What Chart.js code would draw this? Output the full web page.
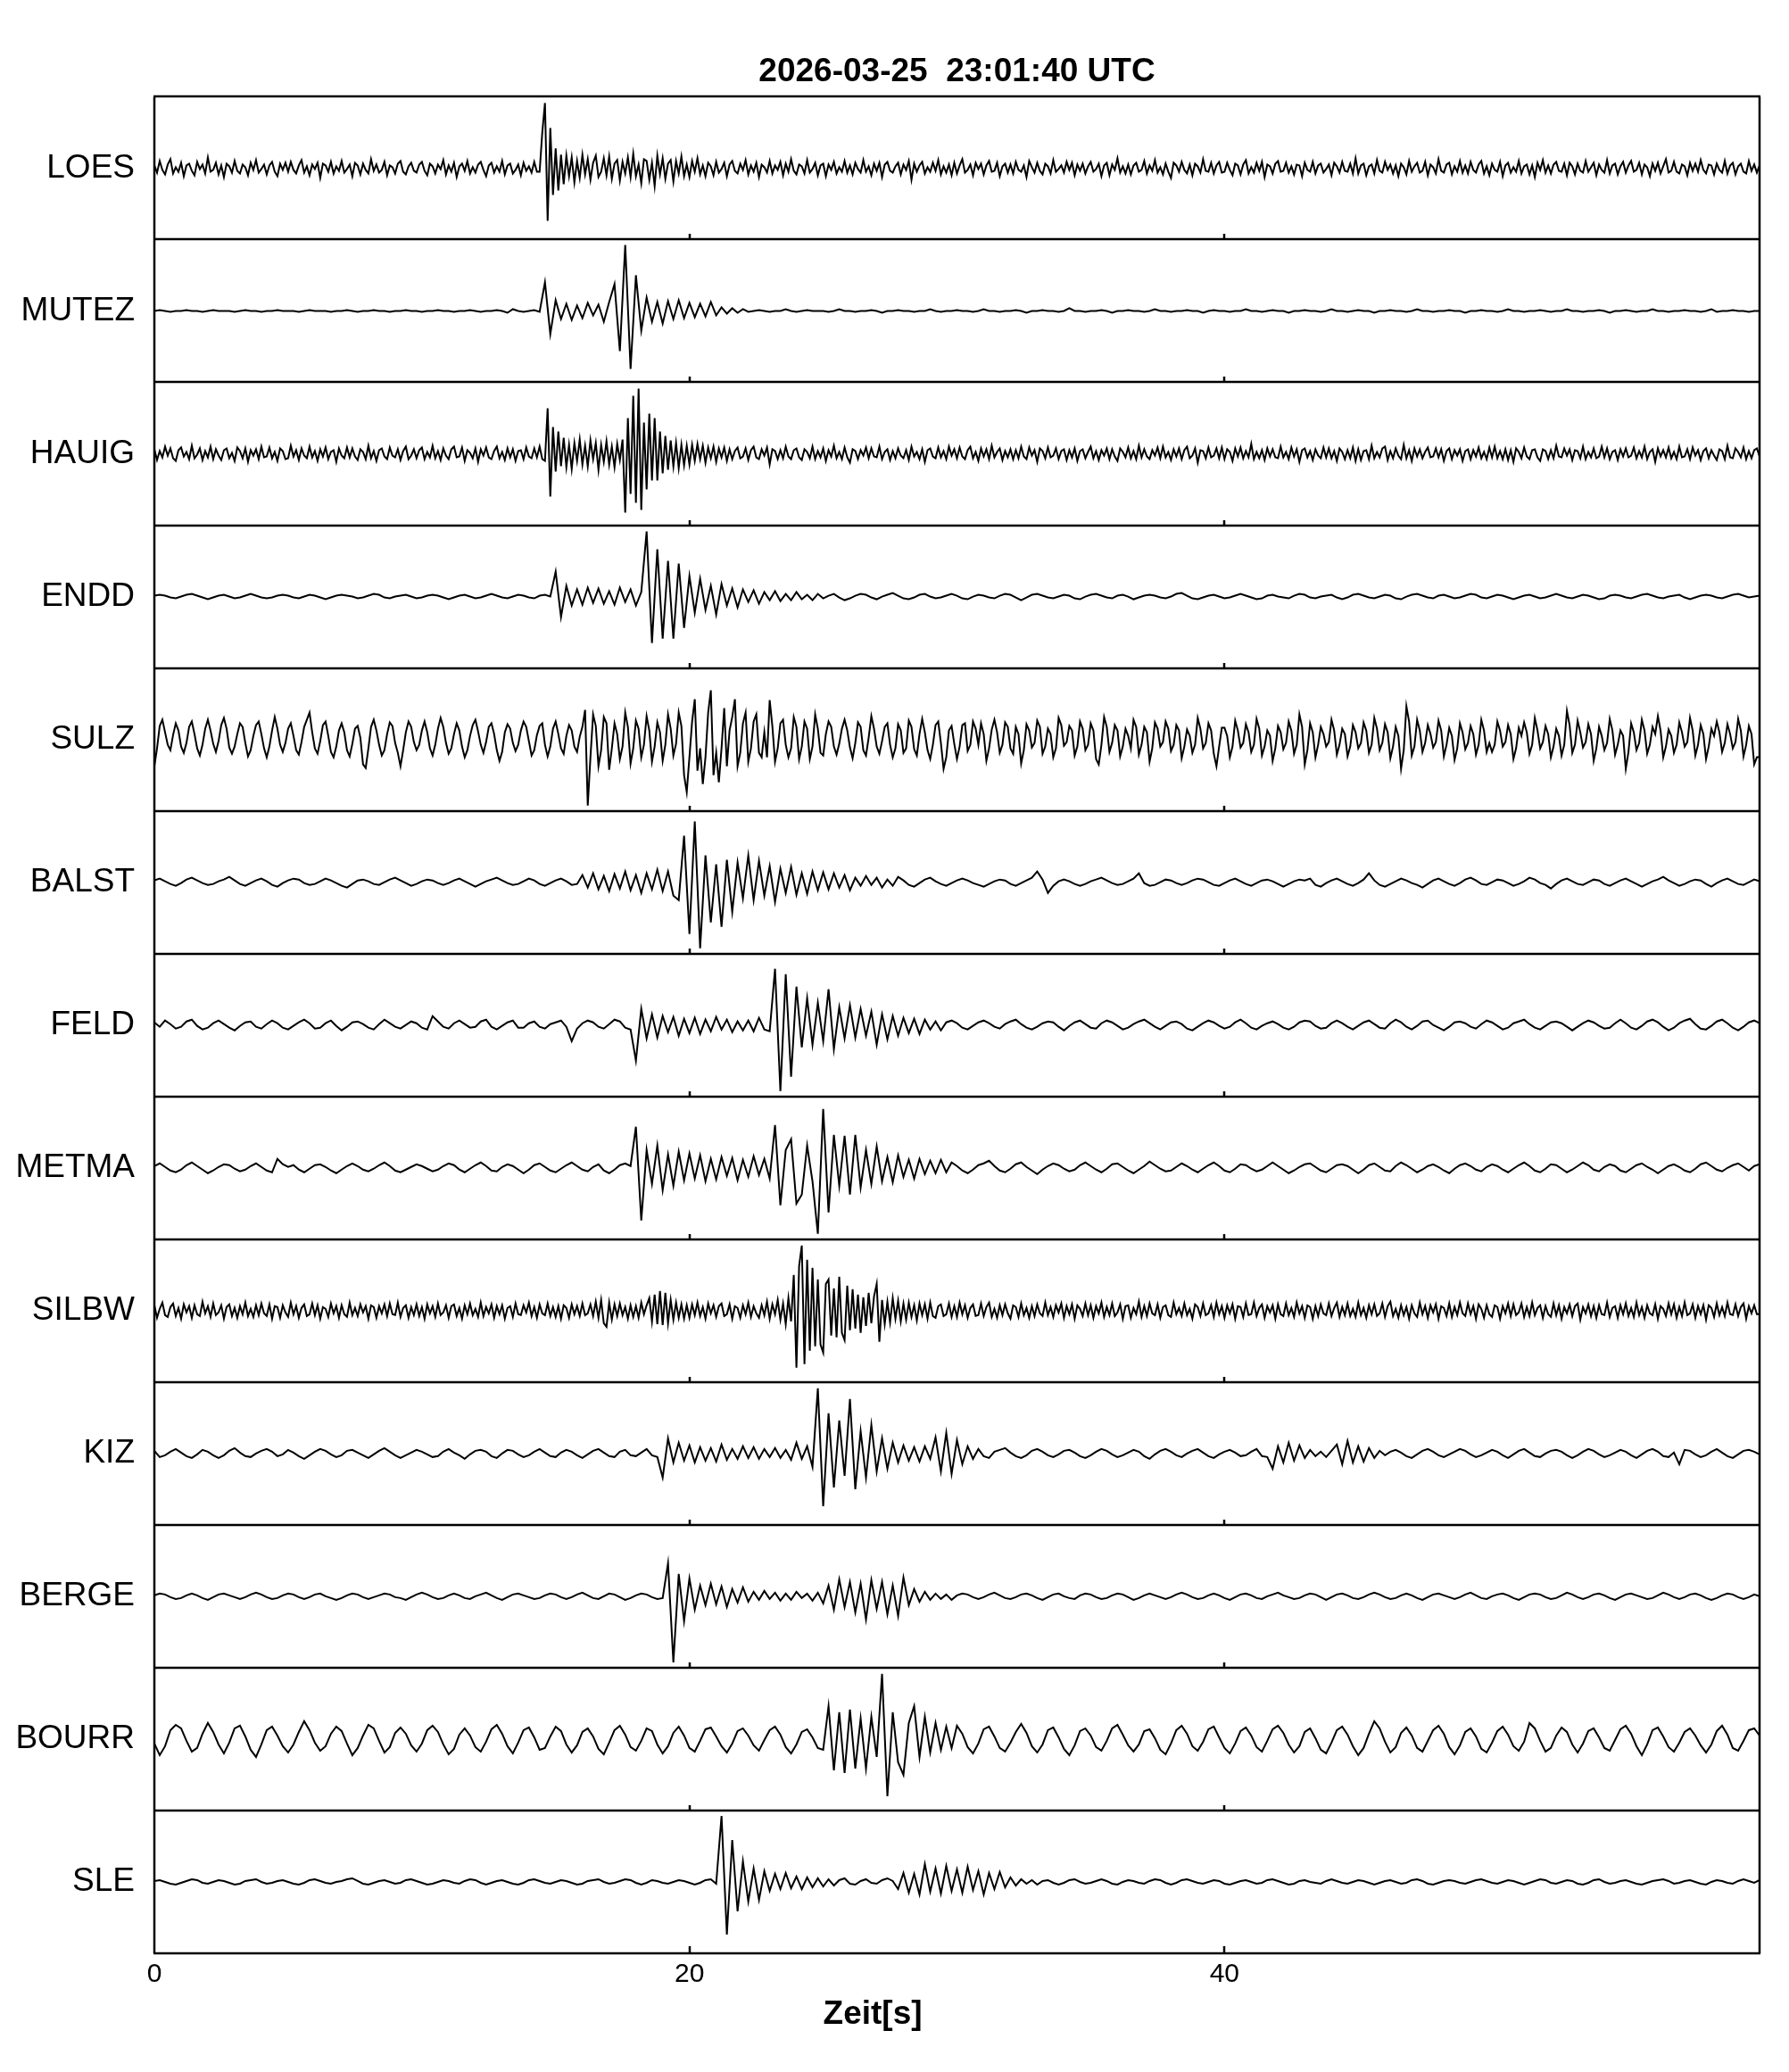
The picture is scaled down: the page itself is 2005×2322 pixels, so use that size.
<!DOCTYPE html>
<html>
<head>
<meta charset="utf-8">
<title>Seismogramme</title>
<script src="https://cdn.jsdelivr.net/npm/chart.js@4.4.1/dist/chart.umd.min.js"></script>
<style>
  html, body { margin: 0; padding: 0; background: #fff; }
  canvas { display: block; }
</style>
</head>
<body>
<canvas id="seisChart" width="2005" height="2322"></canvas>
<script>
const ctx = document.getElementById("seisChart").getContext("2d")

const chartTitle = "2026-03-25  23:01:40 UTC"
const xLabel = "Zeit[s]"
const stations = ["LOES", "MUTEZ", "HAUIG", "ENDD", "SULZ", "BALST", "FELD", "METMA", "SILBW", "KIZ", "BERGE", "BOURR", "SLE"]
const timeTicks = [0, 20, 40]
const timeSpan = 60
// seconds between samples of each trace (0.1 s: 50 values per row, 0.2 s: 25 per row, one row = 5 s)
const sampleSteps = [0.1, 0.2, 0.1, 0.2, 0.1, 0.2, 0.2, 0.2, 0.1, 0.2, 0.2, 0.2, 0.2]

// amplitudes, in px (panel half height = 80)
const loes = [
  3,-5,8,-2,-7,4,10,-6,1,-4,6,-9,3,5,-3,-8,7,-1,4,-6,12,-4,-2,6,-7,3,-10,5,2,-5,8,-3,-6,4,1,-8,6,-2,9,-5,-1,4,-7,3,7,-4,-9,5,-2,6,
  -4,7,-2,-6,3,9,-5,2,-8,4,-1,6,-11,5,3,-4,7,-6,2,-3,8,-5,-1,4,-9,6,3,-7,5,-2,-6,10,-3,4,-5,-2,7,-8,3,1,-6,5,8,-4,-7,2,6,-3,-5,4,
  7,-3,-8,5,2,-6,4,-1,9,-7,3,-4,6,-10,2,5,-3,8,-6,1,-5,4,7,-2,-9,3,6,-5,2,-4,8,-7,3,5,-6,-2,4,-8,6,-3,2,-5,7,-4,-4,40,73,-59,45,-30,
  22,-25,15,-18,14,-9,12,-16,8,-11,15,-7,10,-13,6,14,-10,-4,11,-8,13,-12,5,9,-14,7,-6,12,-10,16,-9,4,-17,10,8,-13,6,-20,14,-7,11,-12,5,9,-15,8,-6,13,-9,4,
  -10,8,-4,11,-7,3,-9,6,2,-8,7,-5,-1,6,-9,4,8,-3,-6,5,-2,9,-7,3,-4,6,-10,4,1,-5,8,-6,3,-2,7,-8,5,-4,10,-3,-7,4,2,-6,9,-5,-1,6,-8,3,
  5,-9,4,-2,7,-6,1,-4,8,-5,3,-7,6,-1,-5,9,-4,2,-8,5,-3,6,-10,4,7,-3,-5,2,6,-7,4,-2,8,-13,5,-4,3,7,-6,1,-4,6,-3,9,-7,2,-5,4,-8,6,
  -6,3,10,-5,-2,4,-8,6,-1,5,-7,3,8,-4,-3,6,-9,2,5,-5,4,-6,7,-2,-4,3,-10,8,1,-5,6,-3,-7,5,2,-6,9,-4,-1,3,-5,7,-2,6,-8,4,-3,5,-6,2,
  7,-4,-1,5,-9,3,6,-8,4,-2,11,-5,2,-6,4,-7,3,6,-4,-2,8,-6,3,-3,9,-5,1,-7,5,-4,-11,6,3,-4,7,-2,-6,4,-8,5,2,-5,10,-3,-4,6,-6,3,7,-5,
  -4,6,-2,-8,5,3,-7,4,9,-6,1,-5,6,-3,7,-10,4,2,-6,5,8,-4,-3,6,-5,2,-7,4,3,-9,6,-2,-4,7,-6,3,5,-5,-1,4,-8,6,2,-5,7,-3,-4,5,-6,11,
  -6,3,5,-8,2,4,-6,9,-3,-5,7,-2,4,-6,3,-9,5,1,-7,8,-4,2,6,-5,-3,7,-8,4,1,-6,10,-3,-5,4,6,-7,2,-4,8,-5,3,-6,7,-2,-5,4,8,-6,2,-8,
  5,-2,-4,7,-9,3,6,-5,1,-4,8,-6,2,4,-7,3,-10,6,-2,9,-5,3,-6,4,7,-3,-4,5,-8,6,2,-7,5,-3,-5,8,-4,1,6,-8,4,-2,-5,9,-6,3,5,-7,2,7,
  -5,3,8,-4,-2,6,-7,4,1,-9,5,-3,6,-6,2,10,-5,-3,7,-4,-6,4,2,-8,6,-3,5,-4,9,-2,-6,4,3,-7,5,-2,-5,8,-6,3,6,-7,2,5,-4,-6,8,-3,4,-5,
  3,
]
const mutez = [
  0,1,0,-1,0,0,1,0,0,-1,0,1,0,0,0,-1,0,1,0,0,-1,0,0,1,0,
  0,0,-1,0,1,0,0,0,-1,0,0,1,0,-1,0,0,1,0,0,-1,0,0,1,0,0,
  -1,0,0,1,0,0,-1,0,0,1,0,-1,0,0,1,0,-2,2,0,-1,0,1,-1,32,-26,
  12,-9,8,-10,6,-8,9,-5,7,-12,10,30,-45,74,-65,40,-22,15,-12,10,-14,11,-9,12,-8,
  9,-7,8,-6,10,-5,4,-3,3,-2,2,-1,0,1,0,-1,0,0,2,0,-1,0,1,0,0,
  0,-1,0,2,0,0,-1,0,0,1,0,-2,0,0,1,0,0,-1,0,0,2,0,-1,0,0,
  1,0,0,-1,0,2,0,0,-1,0,0,1,0,-2,0,0,1,0,0,-1,0,3,0,0,-1,
  0,0,1,0,-2,0,0,1,0,0,-1,0,2,0,0,-1,0,0,1,0,0,-2,0,1,0,
  0,-1,0,0,2,0,0,-1,0,1,0,0,-2,0,0,1,0,0,-1,0,2,0,0,-1,0,
  1,0,0,-2,0,0,1,0,0,-1,0,2,0,0,-1,0,0,1,0,0,-2,0,0,1,0,
  0,-1,0,2,0,0,-1,0,0,1,0,-1,0,0,2,0,0,-1,0,0,1,0,-2,0,0,
  1,0,-1,0,0,2,0,0,-1,0,0,1,0,0,-1,0,2,-1,0,0,1,0,0,-1,0,
  0,
]
const hauig = [
  5,-7,3,-4,8,-2,6,-5,-8,4,7,-3,2,-6,9,-5,-1,6,-7,3,-4,8,-6,5,-2,-7,4,6,-5,1,-8,7,3,-5,6,-9,4,-2,5,-6,8,-4,-3,7,-5,2,-8,6,3,-6,
  -5,9,-3,4,-7,6,-2,-5,8,-4,3,-8,5,-3,7,-6,2,4,-9,6,-2,-5,7,-4,6,-3,-7,5,2,-6,9,-5,3,-8,4,6,-3,-6,7,-2,-4,5,-7,3,8,-6,-2,5,-5,4,
  7,-6,2,-4,9,-5,3,-7,6,-2,-6,5,8,-4,-3,7,-8,4,1,-5,6,-9,5,-2,7,-4,-6,3,8,-5,2,-7,6,-4,5,-8,3,4,-6,7,-3,-5,6,-4,8,-6,-8,51,-48,30,
  -20,25,-14,18,-15,10,-17,12,-8,16,-12,9,-14,15,-6,12,-18,10,-9,14,-12,8,-15,11,-7,16,-66,40,-45,65,-55,73,-63,35,-40,45,-30,40,-30,25,-22,20,-18,15,-14,12,-16,10,-13,9,
  -12,10,-8,11,-6,9,-10,7,-5,8,-9,6,-4,7,-8,5,-6,3,7,-5,-3,6,-7,4,8,-4,-6,5,-2,7,-12,5,3,-6,4,-5,8,-3,-6,4,6,-4,-7,5,2,-5,8,-6,3,-4,
  6,-8,4,-3,9,-5,2,-6,7,-4,-10,5,3,-6,4,-2,7,-5,6,-3,-4,8,-6,2,5,-7,3,-5,6,-2,-5,4,-7,8,-3,2,-6,5,-9,4,6,-3,-5,7,-4,3,-6,8,-2,5,
  -5,7,-3,-6,4,8,-5,2,-8,6,-3,5,-6,9,-4,2,6,-7,3,-4,5,-6,4,-5,8,-3,-6,7,-2,4,-9,6,3,-5,7,-4,-2,6,-6,3,5,-7,4,-4,6,-8,3,5,-5,2,
  8,-5,3,-7,4,-2,6,-6,5,-3,-8,6,2,-4,7,-5,3,-6,9,-4,5,-3,-6,4,-2,7,-5,8,-4,2,-7,5,-3,6,-6,4,8,-5,-2,6,-10,4,3,-5,7,-4,-2,6,-5,7,
  -6,5,2,-8,6,-3,7,-5,3,-4,11,-6,2,-5,4,-7,6,-3,5,-4,-5,8,-4,2,-6,7,-3,5,-9,4,6,-4,3,-7,5,-2,-5,7,-4,6,-5,3,-8,6,2,-6,4,-5,7,-8,
  5,-7,3,4,-6,9,-5,2,-4,6,8,-7,3,-5,6,-2,-6,10,-5,4,-8,6,-3,5,-5,2,7,-4,-3,6,-4,5,-8,3,6,-6,4,-2,5,-8,3,5,-6,4,-3,7,-5,2,-6,7,
  -4,8,-5,3,-6,5,-7,4,-9,6,2,-5,7,-3,-6,4,5,-4,-8,5,3,-6,4,-5,9,-3,-4,6,-2,5,-7,4,3,-5,8,-6,2,-4,6,-5,-3,8,-4,6,-6,2,4,-7,5,-3,
  6,-4,-2,7,-5,3,-4,8,-6,2,5,-9,6,-3,4,-4,7,-5,2,-6,8,-4,-3,5,-6,7,-2,4,-7,3,6,-5,4,-2,-7,5,3,-6,9,-4,-5,6,2,-4,7,-6,3,-5,4,6,
  -3,
]
const endd = [
  1,2,1,-1,-2,0,2,3,1,-1,-3,-1,1,2,0,-2,-1,1,3,1,-1,-2,-1,1,2,
  1,-1,-2,0,2,1,-1,-3,-1,1,2,1,0,-2,-1,1,3,2,-1,-2,0,1,2,0,-2,
  -1,1,2,1,-1,-3,-1,1,2,0,-2,-1,1,3,1,-1,-2,0,2,1,-1,-2,1,2,0,
  28,-23,12,-10,8,-9,10,-7,9,-8,6,-9,10,-6,8,-10,5,73,-52,53,-47,40,-47,37,-35,
  23,-18,20,-15,12,-20,14,-10,9,-12,8,-6,7,-8,5,-4,6,-5,3,-4,5,-3,2,-4,3,
  -2,1,3,-1,-4,-2,1,3,2,-1,-3,0,2,4,1,-2,-3,-1,2,3,0,-2,-1,1,3,
  1,-2,-3,0,2,1,-1,-2,1,3,2,-1,-4,-1,2,3,1,-1,-2,0,2,1,-2,-3,0,
  2,3,1,-1,-2,1,2,0,-3,-1,1,2,1,-1,-2,0,3,4,1,-2,-3,-1,1,2,0,
  -2,-1,1,3,1,-1,-3,-2,1,2,0,-1,-2,1,3,2,-1,-2,0,1,2,-1,-3,-1,2,
  3,1,-1,-2,0,2,1,-2,-3,0,2,3,1,-1,-2,1,2,0,-2,-1,1,3,2,-1,-2,
  0,2,1,-1,-3,-1,1,2,0,-2,-1,1,3,1,-1,-2,0,2,1,-1,-3,-2,1,2,1,
  -1,-2,0,2,3,1,-1,-2,0,1,2,-1,-3,-1,1,2,1,-1,-2,0,2,3,1,-1,0,
  1,
]
const sulz = [
  -30,-10,15,22,8,-6,-12,5,18,10,-8,-15,-4,14,20,6,-10,-18,-6,12,22,10,-5,-14,-2,16,24,12,-9,-16,-8,6,18,14,-4,-19,-12,4,16,20,6,-10,-20,-8,10,25,12,-6,-14,-4,
  12,18,4,-12,-17,-3,14,22,30,8,-10,-16,-2,16,20,4,-14,-20,-8,10,18,8,-12,-19,-5,12,15,2,-28,-32,-10,14,22,10,-6,-18,-12,6,19,15,-4,-15,-30,-12,8,20,14,-3,-12,-6,
  10,20,8,-10,-18,-6,12,24,14,-4,-16,-10,6,18,10,-8,-20,-12,4,16,22,9,-6,-15,-3,14,18,6,-12,-24,-14,8,17,12,-4,-13,-6,10,20,14,-2,-18,-12,5,15,18,-6,-19,-8,12,
  20,6,-10,-16,4,16,10,-8,-14,3,14,33,-74,-20,28,15,-30,-12,25,18,-34,-10,18,6,-22,-8,30,14,-27,-10,21,12,-20,-6,26,10,-25,-8,19,8,-24,-6,28,12,-18,-5,30,15,-40,-59,
  -20,20,45,-35,-10,-50,-20,30,55,-40,-15,-48,-10,35,-30,10,25,45,-30,-15,18,30,-25,-10,20,28,-15,-20,8,-20,44,15,-25,-10,18,22,-6,-20,-10,25,14,-22,-8,20,12,-22,-8,28,12,-15,
  -18,6,20,14,-8,-17,-5,12,22,10,-9,-21,-4,19,14,-12,-18,2,26,12,-8,-16,-2,14,18,-6,-20,-10,17,10,-15,-10,21,14,-11,-18,6,23,8,-12,-22,-6,16,20,-4,-33,-20,10,15,-5,
  -22,-8,16,18,-13,-6,20,12,-6,18,6,-24,-10,11,22,8,-15,-6,19,14,-10,-16,14,6,-27,-12,17,10,-9,-4,21,14,-16,-8,12,6,-20,-10,24,16,-7,-3,15,10,-18,-8,20,12,-12,-6,
  18,10,-22,-28,-6,25,14,-14,-4,16,10,-19,-8,12,4,-10,22,14,-17,-6,14,8,-25,-10,19,12,-8,-3,20,12,-13,-6,16,10,-21,-8,11,4,-15,-6,24,12,-10,-4,18,10,-16,-30,-8,13,
  13,4,-20,-8,21,10,-9,-4,17,8,-14,-6,23,12,-18,-8,10,4,-24,-10,15,8,-11,-4,20,10,-16,-6,28,14,-28,-12,18,8,-20,-6,14,6,-8,-3,22,10,-17,-6,12,6,-19,-8,16,8,
  -10,-4,19,10,-15,-6,24,12,-12,-4,17,8,-21,-8,14,4,-33,-12,37,20,-18,-8,22,10,-14,-4,16,6,-9,-3,21,10,-19,-6,13,4,-23,-10,18,8,-11,-4,15,6,-17,-6,22,10,-14,-4,
  -14,-6,20,10,-8,-3,16,6,-22,-10,13,4,19,8,-16,-6,24,10,-10,-3,15,6,-20,-8,12,4,-18,-6,32,16,-15,-6,21,8,-9,-3,17,6,-24,-10,14,4,-12,-4,23,10,-17,-6,10,4,
  -33,-14,18,8,-12,-4,22,10,-16,-6,14,6,26,10,-20,-8,11,4,-15,-6,19,8,-8,-3,24,10,-18,-6,16,6,-22,-8,12,4,20,8,-14,-4,17,6,-10,-3,23,10,-19,-6,15,6,-28,-20,
  -20,
]
const balst = [
  2,4,1,-2,-4,-1,3,5,2,-1,-3,-2,1,3,6,2,-2,-4,-1,2,4,1,-3,-5,-1,
  2,4,3,-1,-3,-2,1,4,2,-1,-4,-6,-2,2,3,1,-2,-3,0,3,5,2,-1,-4,-2,
  1,3,2,-1,-3,-1,2,4,1,-2,-5,-2,1,3,5,2,-1,-3,-2,1,4,2,-2,-4,-1,
  2,4,1,-3,-2,8,-6,10,-8,7,-10,9,-7,12,-9,8,-12,10,-8,14,-10,12,-15,-20,52,
  -58,68,-74,30,-45,20,-50,25,-33,22,-18,30,-20,24,-15,18,-22,15,-12,17,-14,10,-13,12,-9,
  11,-8,10,-6,8,-9,5,-4,7,-3,5,-6,3,-4,6,2,-3,-5,-1,3,5,1,-2,-4,-1,
  2,4,2,-1,-3,-5,-2,1,3,2,-2,-4,-1,2,5,12,3,-12,-4,1,3,1,-2,-4,-2,
  1,3,5,2,-1,-3,-2,1,4,10,-1,-4,-3,0,3,2,-1,-3,-1,2,4,3,0,-3,-4,
  -1,2,4,1,-2,-4,-1,2,3,1,-2,-5,-2,1,3,2,4,-3,-5,-1,2,4,1,-2,-4,
  -1,3,10,2,-3,-5,-2,1,4,2,-1,-3,-6,-2,2,4,1,-2,-4,-1,3,5,2,-2,-3,
  0,3,2,-1,-4,-2,1,5,3,-1,-3,-7,-2,2,4,1,-2,-3,0,3,2,-2,-4,-1,2,
  4,1,-2,-5,-2,1,3,6,2,-1,-4,-2,1,3,2,-2,-5,-1,2,4,1,-2,-3,0,3,
  1,
]
const feld = [
  3,-2,5,1,-4,-2,4,6,-1,-5,-3,2,5,1,-3,-6,-1,3,4,-2,-4,1,5,2,-3,
  -5,-1,3,6,2,-4,-3,2,5,-1,-6,-2,3,4,1,-3,-5,1,6,2,-2,-4,0,4,2,
  -3,-5,10,4,-2,-4,2,5,1,-3,-2,4,6,-2,-5,-1,3,5,-3,-3,2,4,-2,-4,1,
  3,5,-2,-18,-4,2,5,3,-2,-4,1,6,4,-3,-5,-40,18,-15,12,-14,10,-8,9,-12,7,
  -9,8,-10,6,-7,9,-5,6,-8,4,-6,5,-7,8,-5,-7,63,-74,57,-58,43,-25,30,-22,25,
  -18,40,-27,20,-15,22,-14,18,-12,15,-22,12,-16,10,-12,8,-9,7,-10,6,-5,4,-6,3,5,
  2,-3,-5,-1,3,5,2,-2,-4,1,4,6,1,-3,-5,-2,2,4,3,-2,-6,-1,3,5,1,
  -3,-4,2,5,3,-1,-5,-3,1,4,6,2,-2,-5,-1,3,4,1,-4,-6,-2,2,5,3,-1,
  -4,-2,3,6,2,-3,-5,-1,2,4,1,-3,-5,-2,3,5,4,-1,-4,-3,2,5,2,-2,-5,
  -1,3,5,1,-3,-4,2,6,3,-2,-5,-1,4,5,0,-3,-6,-2,3,4,2,-2,-4,1,5,
  3,-1,-5,-3,2,4,6,1,-3,-5,-1,3,4,2,-2,-6,-2,2,5,3,-1,-4,-3,2,6,
  2,-3,-5,-1,4,6,3,-2,-6,-3,2,5,7,1,-4,-5,-1,4,6,2,-3,-6,-2,3,5,
  2,
]
const metma = [
  2,5,1,-3,-5,-2,3,6,2,-2,-6,-3,1,4,3,-1,-4,-2,2,5,1,-3,-5,10,4,
  1,3,-2,-5,-1,3,4,1,-3,-6,-2,2,5,2,-2,-4,-1,3,6,2,-3,-5,-2,1,4,
  2,-1,-4,-2,2,5,3,-2,-5,-1,3,6,2,-3,-4,1,4,2,-2,-6,-2,3,5,1,-3,
  -5,-1,3,6,2,-2,-4,1,4,-3,-6,-2,3,5,2,46,-59,20,-18,25,-25,15,-20,18,-14,
  16,-12,14,-15,10,-13,12,-9,11,-14,9,-10,13,-8,10,-12,48,-42,20,32,-40,-30,25,-15,-74,
  66,-50,37,-20,36,-30,37,-22,20,-18,24,-15,12,-16,14,-10,9,-12,10,-7,8,-6,9,-5,6,
  2,-3,-6,-2,3,5,8,2,-3,-5,-1,4,6,1,-3,-7,-2,2,5,3,-1,-4,-2,3,6,
  2,-2,-5,-1,4,5,1,-3,-6,-2,2,7,3,-1,-4,-3,1,5,2,-2,-5,-1,3,6,2,
  -3,-5,-1,4,3,-1,-4,-2,2,6,2,-2,-6,-3,1,4,5,1,-3,-5,-1,3,4,2,-2,
  -6,-2,3,5,1,-3,-4,2,6,3,-1,-5,-2,2,4,1,-3,-6,-1,3,5,2,-2,-4,1,
  4,2,-2,-5,-1,3,6,2,-3,-5,-1,4,3,-1,-5,-2,2,6,3,-2,-4,1,4,2,-3,
  -5,-1,3,5,1,-2,-6,-2,2,4,1,-3,-5,-1,4,6,2,-2,-4,0,3,5,1,-3,2,
  4,
]
const silbw = [
  6,-8,2,9,-5,-7,4,8,-6,3,-9,7,-2,5,-8,6,-4,-6,10,-3,5,-7,8,-5,-2,6,-9,4,7,-6,3,-8,5,-4,9,-6,2,-7,6,-5,8,-3,-6,7,-9,5,4,-8,6,-2,
  -7,9,-4,5,-8,3,7,-6,-4,8,-5,6,-9,4,2,-7,8,-3,5,-8,6,-4,-7,9,-5,3,-6,7,-2,5,-9,6,4,-8,5,-3,7,-6,8,-4,-5,9,-7,3,6,-8,4,-5,7,-6,
  4,-9,7,-3,5,-7,8,-5,-2,6,-8,5,7,-6,3,-9,6,-4,8,-5,2,-7,9,-6,4,-3,7,-8,5,-4,6,-9,3,5,-7,8,-4,-5,6,-2,9,-6,4,-8,7,-3,-5,8,-6,4,
  -7,5,-9,6,3,-8,7,-4,5,-6,8,-5,-3,7,-6,10,-8,12,-14,-18,9,-10,7,-6,8,-5,4,-9,6,-7,5,-8,9,-4,6,14,-12,18,-15,22,-16,20,-14,12,-10,9,-8,7,-9,6,
  -8,7,-5,9,-6,4,-9,8,-3,6,-7,5,8,-6,-4,7,-9,5,3,-8,6,-4,9,-7,5,-3,-8,6,-5,10,-9,7,-4,12,-10,8,-15,14,-12,40,-64,50,73,-60,57,-45,48,-40,35,-38,
  -47,30,35,-28,25,-30,38,-25,-33,28,-22,24,-20,18,-25,15,-17,20,-14,16,30,-35,12,-15,10,-13,14,-9,11,-12,8,-10,9,-7,6,-11,8,-5,7,-9,9,-6,-8,5,7,-6,-4,8,-7,5,
  -7,9,-4,6,-8,3,7,-6,-5,8,-6,4,9,-7,2,-8,6,-5,7,-3,-9,6,4,-7,8,-5,3,-8,5,-6,7,-3,-6,9,-5,4,-7,6,-2,8,-8,5,-4,7,-9,6,2,-6,8,-5,
  6,-8,5,-3,9,-7,4,-5,8,-6,-2,7,-9,5,6,-8,3,-4,10,-7,5,-6,8,-3,-5,7,-8,4,6,-5,-7,9,-4,3,-6,8,-5,2,-9,7,4,-6,8,-5,-3,6,-7,9,-4,5,
  -8,6,-3,7,-9,5,4,-7,8,-5,-4,9,-6,3,7,-8,5,-2,6,-9,7,-4,-6,8,-5,3,-7,9,-3,5,-8,6,4,-9,5,-6,7,-3,-5,8,-6,3,9,-7,4,-5,8,-6,2,-7,
  9,-5,3,-8,6,-4,7,-6,-3,8,-7,5,10,-6,2,-8,6,-5,4,-9,6,-3,-7,9,-4,5,-8,6,-2,7,-9,5,3,-6,8,-7,4,-5,9,-3,-6,8,-4,5,-9,7,2,-8,6,-4,
  -7,6,4,-9,5,-3,8,-6,7,-5,-2,8,-7,4,-6,9,-5,3,6,-8,5,-4,-7,8,-5,6,-9,4,-3,7,-6,5,8,-10,4,-3,7,-6,5,-8,6,-4,-5,9,-7,3,5,-8,6,-4,
  8,-6,3,-7,9,-5,4,-8,6,-3,-5,7,-9,5,2,-6,8,-4,7,-8,4,-6,9,-5,-3,7,-8,5,-4,6,-10,6,3,-7,8,-5,4,-6,9,-4,-5,7,-6,4,8,-9,5,-3,6,-4,
  -4,
]
const kiz = [
  3,-4,-2,2,5,1,-3,-5,-1,4,2,-2,-5,-2,3,6,1,-3,-4,0,3,5,2,-3,-1,
  4,1,-3,-6,-2,2,5,3,-1,-4,-2,3,4,1,-2,-5,-1,3,6,2,-2,-5,-2,1,4,
  2,-1,-4,-3,2,5,1,-2,-6,-1,3,4,2,-3,-5,0,4,3,-1,-4,-2,2,5,1,-3,
  -4,1,4,2,-2,-5,-1,3,5,1,-3,-4,2,4,-2,-3,1,5,-2,-4,-27,17,-10,12,-8,
  9,-10,7,-8,6,-9,10,-7,5,-6,8,-5,7,-6,5,-4,6,-5,4,-7,12,-6,8,-15,73,
  -59,45,-38,37,-25,61,-40,25,-27,32,-20,17,-17,12,-10,9,-8,7,-9,8,-6,18,-20,23,-23,
  15,-12,8,-6,5,-3,-5,2,4,6,1,-3,-5,-2,3,5,2,-2,-4,-1,3,4,1,-3,-5,
  -2,2,5,3,-1,-4,-2,1,4,2,-3,-6,-1,3,5,2,-2,-4,0,3,5,1,-3,-5,-1,
  2,4,1,-3,-2,2,5,-3,-4,-17,8,-10,12,-8,9,-5,4,-3,2,-4,3,10,-12,14,-10,
  8,-9,6,-5,3,-2,2,4,1,-3,-5,-1,3,5,2,-2,-4,-1,2,5,3,-1,-4,-2,1,
  4,2,-2,-5,-1,3,5,1,-3,-4,0,3,4,2,-2,-5,-2,2,5,3,-1,-4,-2,1,4,
  2,-2,-5,-1,3,5,2,-3,-4,1,-12,4,3,-1,-4,-2,2,5,1,-3,-5,-1,3,4,2,
  -1,
]
const berge = [
  1,3,2,-1,-3,-2,1,3,1,-2,-4,-1,2,3,1,-1,-3,-1,2,4,2,-1,-3,-2,1,
  3,2,-1,-3,-1,2,3,0,-2,-4,-2,1,3,2,-1,-3,-1,1,3,2,-1,-2,-4,-1,2,
  4,2,-1,-3,-2,1,3,1,-2,-3,0,2,4,1,-2,-4,-1,2,3,1,-1,-3,-2,1,3,
  2,-1,-3,-1,2,4,1,-2,-3,0,3,2,-1,-4,-2,1,3,2,-1,-3,-2,37,-74,25,-28,
  20,-15,12,-10,14,-9,11,-12,8,-7,10,-6,5,-4,6,-3,4,-5,3,-4,5,-2,3,-5,4,
  -8,12,-15,19,-12,16,-18,14,-26,18,-14,16,-20,12,-22,21,-10,8,-6,5,-4,3,-3,2,-4,
  1,3,2,-1,-3,-1,2,4,1,-2,-3,-1,2,3,1,-2,-4,-1,2,3,0,-2,-3,1,3,
  2,-1,-3,-2,1,3,2,-1,-4,-2,1,3,1,-1,-3,-1,2,4,2,-1,-3,-2,1,3,1,
  -2,-4,-1,2,3,1,-2,-3,0,2,4,1,-1,-3,-2,1,3,2,-1,-4,-1,2,3,1,-2,
  -3,-1,2,4,2,-1,-3,-2,1,3,1,-2,-4,-1,2,3,1,-1,-3,-1,2,4,1,-2,-3,
  0,2,3,1,-2,-4,-1,2,3,2,-1,-3,-2,1,4,2,-1,-3,-1,2,3,1,-2,-4,-1,
  2,3,1,-1,-3,-2,1,4,2,-1,-3,-1,2,3,1,-2,-4,-2,1,3,2,-1,-3,-1,2,
  0,
]
const bourr = [
  -5,-18,-8,10,16,12,-2,-14,-10,6,18,8,-6,-16,-4,12,15,3,-12,-20,-6,10,14,4,-8,
  -15,-6,8,20,10,-4,-13,-8,6,14,9,-5,-18,-10,4,16,12,-2,-15,-9,7,13,6,-7,-14,
  -5,10,15,8,-6,-17,-11,5,12,4,-9,-14,-3,11,16,6,-8,-16,-4,10,13,2,-12,-10,3,
  14,9,-6,-15,-7,8,12,3,-11,-17,-4,10,15,5,-9,-13,-2,12,9,-6,-16,-8,7,14,4,
  -10,-14,-2,11,13,3,-8,-15,-5,9,12,4,-7,-13,-1,10,14,5,-9,-16,-6,8,11,2,-10,
  -12,37,-35,30,-38,33,-33,23,-33,25,-20,73,-64,30,-26,-40,18,37,-20,25,-15,18,-12,14,-10,
  15,6,-9,-16,-5,11,14,3,-10,-14,-4,8,17,7,-8,-15,-6,10,13,2,-11,-18,-7,9,12,
  4,-9,-13,-2,12,16,5,-7,-14,-6,9,11,1,-12,-17,-5,10,15,6,-8,-13,-3,11,14,2,
  -10,-16,-5,9,13,4,-9,-14,-2,11,15,7,-6,-15,-8,8,12,1,-12,-16,-4,10,14,5,-8,
  -18,-10,6,20,12,-3,-15,-9,7,13,4,-10,-14,-2,10,15,6,-9,-17,-7,8,12,3,-11,-15,
  -4,9,14,5,-8,-13,-3,18,12,-2,-14,-10,4,13,8,-6,-15,-5,9,12,2,-10,-13,-1,11,
  15,6,-8,-18,-6,10,13,3,-9,-14,-4,8,12,4,-7,-15,-6,9,15,5,-10,-13,-2,10,12,
  4,
]
const sle = [
  1,2,0,-2,-3,-1,1,3,2,-1,-2,0,2,1,-1,-3,-2,1,2,3,0,-2,-1,1,2,
  0,-2,-3,-1,2,3,1,-1,-2,0,1,3,4,1,-2,-3,-1,1,2,0,-2,-1,2,3,1,
  -1,-3,-2,0,2,1,-1,-2,1,3,2,-1,-3,-1,1,2,0,-2,-3,-1,2,3,1,-1,-2,
  0,2,1,-1,-3,-2,1,2,3,0,-2,-1,1,3,2,-1,-3,-1,2,1,-1,-2,0,2,1,
  -1,-3,-1,2,3,-2,74,-59,47,-33,23,-22,15,-20,12,-10,9,-8,10,-7,6,-8,5,-6,4,
  -5,3,-4,2,4,-2,-3,1,3,-1,-2,2,4,1,-8,10,-12,9,-14,20,-11,15,-13,18,-10,
  14,-12,17,-9,12,-14,10,-8,11,-6,5,-4,3,-2,2,-3,1,2,-1,-3,-1,2,3,0,-2,
  -1,1,3,1,-2,-3,0,2,1,-1,-2,1,3,2,-1,-3,-1,2,3,1,-1,-2,0,2,1,
  -2,-3,-1,1,2,0,-2,-1,2,3,1,-1,-3,-2,1,2,0,-1,-2,1,3,1,-1,-2,0,
  2,1,-1,-3,-1,1,2,0,-2,-1,2,3,1,-2,-3,-1,1,2,1,-1,-2,0,2,3,1,
  -1,-2,0,2,1,-1,-3,-1,1,3,2,-1,-2,0,2,1,-2,-3,-1,2,3,0,-2,-1,1,
  2,0,-2,-3,-1,1,2,3,1,-2,-1,1,2,0,-2,-3,0,2,1,-1,-2,1,3,1,-1,
  2,
]

const traces = [loes, mutez, hauig, endd, sulz, balst, feld, metma, silbw, kiz, berge, bourr, sle]

const fontFamily = "'Liberation Sans', Arial, Helvetica, sans-serif"
const panelHeight = 160
const yTop = stations.length * panelHeight
const centerOf = (k) => yTop - panelHeight / 2 - k * panelHeight

// panel frames, the little time ticks on each panel and the axis label
const panelFrame = {
  id: "panelFrame",
  afterDraw(chart) {
    const {
      ctx,
      chartArea: { left, right, top, bottom },
      scales: { x, y },
    } = chart
    ctx.save()
    ctx.strokeStyle = "#000"
    ctx.lineWidth = 2.5
    ctx.beginPath()
    for (let k = 0; k <= stations.length; k++) {
      const py = Math.round(y.getPixelForValue(k * panelHeight))
      ctx.moveTo(left - 1, py)
      ctx.lineTo(right + 1, py)
      if (k < stations.length) {
        timeTicks.forEach((t) => {
          if (t === 0) return
          const px = Math.round(x.getPixelForValue(t))
          ctx.moveTo(px, py)
          ctx.lineTo(px, py - (k === 0 ? 8 : 6))
        })
      }
    }
    ctx.moveTo(Math.round(left), top)
    ctx.lineTo(Math.round(left), bottom)
    ctx.moveTo(Math.round(right), top)
    ctx.lineTo(Math.round(right), bottom)
    ctx.stroke()

    ctx.fillStyle = "#000"
    ctx.font = "bold 37px " + fontFamily
    ctx.textAlign = "center"
    ctx.textBaseline = "alphabetic"
    ctx.fillText(xLabel, x.getPixelForValue(26.85), bottom + 79)
    ctx.restore()
  },
}

new Chart(ctx, {
  type: "line",
  data: {
    datasets: traces.map((trace, k) => ({
      label: stations[k],
      data: trace.map((v, i) => ({ x: i * sampleSteps[k], y: centerOf(k) + v })),
      borderColor: "#000",
      borderWidth: 2,
      pointRadius: 0,
      tension: 0,
      fill: false,
    })),
  },
  options: {
    responsive: false,
    animation: false,
    devicePixelRatio: 1,
    parsing: false,
    layout: {
      padding: { left: 0, right: 33, top: 0, bottom: 0 },
    },
    plugins: {
      legend: { display: false },
      tooltip: { enabled: false },
      title: {
        display: true,
        text: chartTitle,
        fullSize: false,
        color: "#000",
        font: { family: fontFamily, size: 37, weight: "bold" },
        padding: { top: 59, bottom: 5 },
      },
    },
    scales: {
      x: {
        type: "linear",
        min: 0,
        max: timeSpan,
        grid: { display: false, drawTicks: false },
        border: { display: false },
        afterBuildTicks: (scale) => {
          scale.ticks = timeTicks.map((v) => ({ value: v }))
        },
        afterFit: (scale) => {
          scale.height = 133
        },
        ticks: {
          color: "#000",
          font: { family: fontFamily, size: 30 },
          padding: 6,
          maxRotation: 0,
          autoSkip: false,
        },
      },
      y: {
        type: "linear",
        min: 0,
        max: yTop,
        grid: { display: false, drawTicks: false },
        border: { display: false },
        afterBuildTicks: (scale) => {
          scale.ticks = stations.map((_, k) => ({ value: centerOf(k) }))
        },
        afterFit: (scale) => {
          scale.width = 173
        },
        ticks: {
          color: "#000",
          font: { family: fontFamily, size: 37 },
          padding: 22,
          autoSkip: false,
          callback: (value) => stations[Math.round((centerOf(0) - value) / panelHeight)],
        },
      },
    },
  },
  plugins: [panelFrame],
})
</script>
</body>
</html>
